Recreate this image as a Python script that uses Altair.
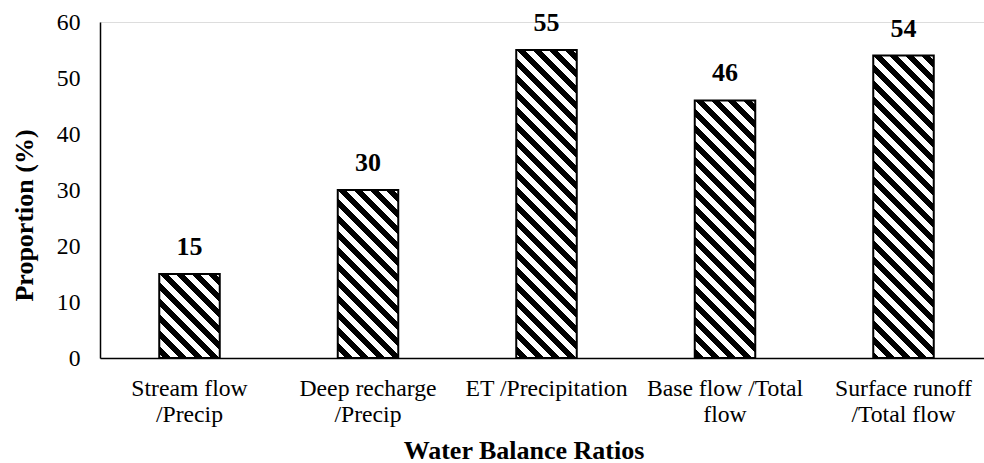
import math
import altair as alt
import pandas as pd

# ---- data ----
categories = [
    "Stream flow\n/Precip",
    "Deep recharge\n/Precip",
    "ET /Precipitation",
    "Base flow /Total\nflow",
    "Surface runoff\n/Total flow",
]
values = [15, 30, 55, 46, 54]
y_ticks = [0, 10, 20, 30, 40, 50, 60]

df = pd.DataFrame({"category": categories, "value": values})

# ---- layout ----
PLOT_W, PLOT_H = 884, 336
Y_MAX = 60
STEP = 178.5
BAND = 60.5
P_INNER = 1 - BAND / STEP
P_OUTER = (PLOT_W / STEP - (len(categories) - P_INNER)) / 2
ALIGN = (89.5 - BAND / 2) / (PLOT_W - STEP * (len(categories) - P_INNER))

SERIF = "Liberation Serif"


def hatch_gradient(w, h, period=16.0, frac=0.5):
    """Diagonal '\\' stripes as a hard-stop linear gradient in bbox units."""
    L = w + h
    k = L / (w * w + h * h)
    stops = []
    f = math.floor(-h / period) * period
    while f < w:
        for lo, hi, col in ((f, f + frac * period, "#000000"),
                            (f + frac * period, f + period, "#ffffff")):
            a = min(max((lo + h) / L, 0.0), 1.0)
            b = min(max((hi + h) / L, 0.0), 1.0)
            if b <= a:
                continue
            stops.append({"offset": round(a, 5), "color": col})
            stops.append({"offset": round(b, 5), "color": col})
        f += period
    return {
        "gradient": "linear",
        "x1": 0, "y1": 1,
        "x2": round(k * w, 6), "y2": round(1 - k * h, 6),
        "stops": stops,
    }


x_enc = alt.X(
    "category:N",
    sort=categories,
    scale=alt.Scale(domain=categories, paddingInner=P_INNER,
                    paddingOuter=P_OUTER, align=ALIGN, round=False),
    axis=alt.Axis(
        title="Water Balance Ratios",
        labelExpr="split(datum.label, '\\n')",
        labelAngle=0,
        labelFont=SERIF, labelFontSize=23.7, labelColor="black",
        labelPadding=18.5, labelLineHeight=25.5, labelLimit=400,
        labelOverlap=False,
        ticks=False, tickSize=0,
        domainColor="black", domainWidth=1.5,
        titleFont=SERIF, titleFontSize=26, titleFontWeight="bold",
        titleColor="black", titleX=423.5, titleY=100,
        titleBaseline="alphabetic", titleAlign="center",
    ),
)
y_enc = alt.Y(
    "value:Q",
    scale=alt.Scale(domain=[0, Y_MAX], nice=False, zero=True),
    axis=alt.Axis(
        title="Proportion (%)",
        values=y_ticks,
        grid=False,
        ticks=False, tickSize=0,
        labelFont=SERIF, labelFontSize=23.7, labelColor="black",
        labelPadding=20,
        domainColor="black", domainWidth=1.5,
        titleFont=SERIF, titleFontSize=26, titleFontWeight="bold",
        titleColor="black", titleX=-68, titleY=193, titleAngle=270,
        titleBaseline="alphabetic", titleAlign="center",
    ),
)

base = alt.Chart(df).encode(x=x_enc, y=y_enc)

layers = []
for cat, val in zip(categories, values):
    h = val / Y_MAX * PLOT_H
    layers.append(
        base.transform_filter(alt.datum.category == cat).mark_bar(
            fill=hatch_gradient(BAND, h),
            stroke="black",
            strokeWidth=2,
        )
    )

labels = base.mark_text(
    font=SERIF, fontSize=26, fontWeight="bold", color="black",
    baseline="alphabetic", dy=-19,
).encode(text="value:Q")

chart = alt.layer(*layers, labels).properties(
    width=PLOT_W,
    height=PLOT_H,
    autosize=alt.AutoSizeParams(type="none"),
    padding={"left": 100, "top": 22, "right": 0, "bottom": 105},
).configure_view(stroke=None).configure(background="white")

chart.save("out.html", embed_options={"renderer": "svg", "actions": False})
